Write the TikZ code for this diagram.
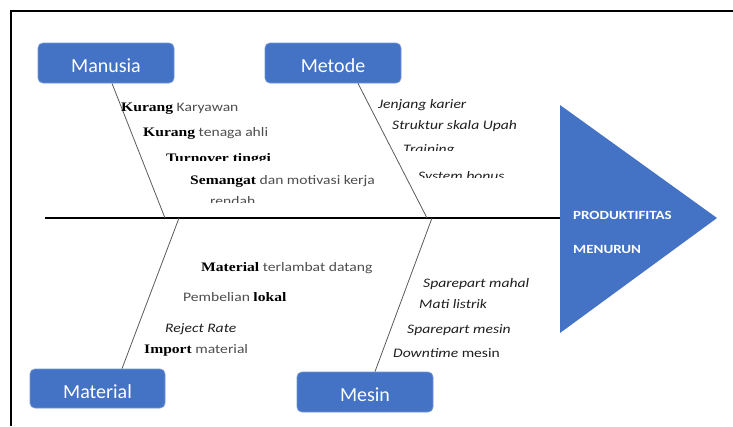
\documentclass[tikz,border=0pt]{standalone}
\usepackage{fontspec}
\setmainfont{Carlito}
\newfontfamily\lblf[FakeStretch=1.2]{Carlito}
\newfontfamily\serbf[FakeStretch=1.2]{Liberation Serif}
\newcommand\bsf[1]{{\serbf\bfseries\color{black}#1}}
\definecolor{boxblue}{HTML}{4472C4}
\definecolor{boxedge}{HTML}{6F95D8}
\definecolor{txtgrey}{HTML}{4D4D4D}
\definecolor{txtdark}{HTML}{1E1E1E}
\definecolor{bonegrey}{HTML}{5A5A5A}
\begin{document}
\begin{tikzpicture}[x=1pt,y=-1pt,
  box/.style={rectangle, rounded corners=5pt, fill=boxblue, draw=boxedge, line width=0.8pt,
    minimum width=136pt, minimum height=40pt, inner sep=0pt, text=white,
    text height=19pt, text depth=0pt,
    font=\fontsize{20}{22}\selectfont},
  lbl/.style={anchor=base west, inner sep=0pt, text=txtgrey, font=\lblf\fontsize{13}{14}\selectfont},
  ital/.style={anchor=base west, inner sep=0pt, text=txtdark, font=\lblf\itshape\fontsize{13}{14}\selectfont},
  tri/.style={anchor=base west, inner sep=0pt, text=white, font=\lblf\bfseries\fontsize{12.5}{14}\selectfont},
  bone/.style={draw=bonegrey, line width=0.8pt},
  spine/.style={draw=black, line width=1.8pt}]
\useasboundingbox (0,0) rectangle (733,426);
% frame
\draw[line width=1.3pt] (11,426) -- (11,11) -- (733,11);
% boxes
\node[box] (manusia) at (106,63) {Manusia};
\node[box] (metode) at (333,63) {Metode};
\node[box, minimum width=135pt, minimum height=39pt] (material) at (97.5,388.5) {Material};
\node[box] (mesin) at (365,392) {Mesin};
% head
\coordinate (head) at (560,218);
\fill[boxblue] (560,105) -- (717,218) -- (560,333) -- cycle;
\node[tri] (p1) at (573,219) {PRODUKTIFITAS};
\node[tri] (p2) at (573,253) {MENURUN};
% spine
\coordinate (tail) at (45,218);
\coordinate (jman) at (165,218);
\coordinate (jmet) at (427,218);
\coordinate (jmat) at (179,218);
\coordinate (jmes) at (432,218);
\draw[spine] (tail) -- (head);
% bones
\draw[bone] ([xshift=6pt]manusia.south) -- (jman);
\draw[bone] ([xshift=25pt]metode.south) -- (jmet);
\draw[bone] ([xshift=24.5pt]material.north) -- (jmat);
\draw[bone] ([xshift=10pt]mesin.north) -- (jmes);
% Manusia causes
\node[lbl] (ma1) at (121,111) {\bsf{Kurang} Karyawan};
\node[lbl] (ma2) at (143,136) {\bsf{Kurang} tenaga ahli};
\begin{scope}
\clip (150,140) rectangle (320,160);
\node[lbl] (ma3) at (166,162.5) {\bsf{Turnover tinggi}};
\end{scope}
\node[lbl] (ma4) at (190,184) {\bsf{Semangat} dan motivasi kerja};
\begin{scope}
\clip (190,188) rectangle (300,202.5);
\node[lbl] (ma5) at (210,205) {rendah};
\end{scope}
% Metode causes
\node[ital] (me1) at (378,108) {Jenjang karier};
\node[ital] (me2) at (392,129) {Struktur skala Upah};
\begin{scope}
\clip (395,138) rectangle (480,150.5);
\node[ital] (me3) at (403,153) {Training};
\end{scope}
\begin{scope}
\clip (410,164) rectangle (520,177.5);
\node[ital] (me4) at (418,180) {System bonus};
\end{scope}
% Material causes
\node[lbl] (mt1) at (201,271) {\bsf{Material} terlambat datang};
\node[lbl] (mt2) at (183,301) {Pembelian \bsf{lokal}};
\node[ital] (mt3) at (165,332) {Reject Rate};
\node[lbl] (mt4) at (144,353) {\bsf{Import} material};
% Mesin causes
\node[ital] (ms1) at (423,287) {Sparepart mahal};
\node[ital] (ms2) at (419,308) {Mati listrik};
\node[ital] (ms3) at (407,333) {Sparepart mesin};
\node[ital] (ms4) at (393,357) {Downtime {\upshape mesin}};
\end{tikzpicture}
\end{document}
